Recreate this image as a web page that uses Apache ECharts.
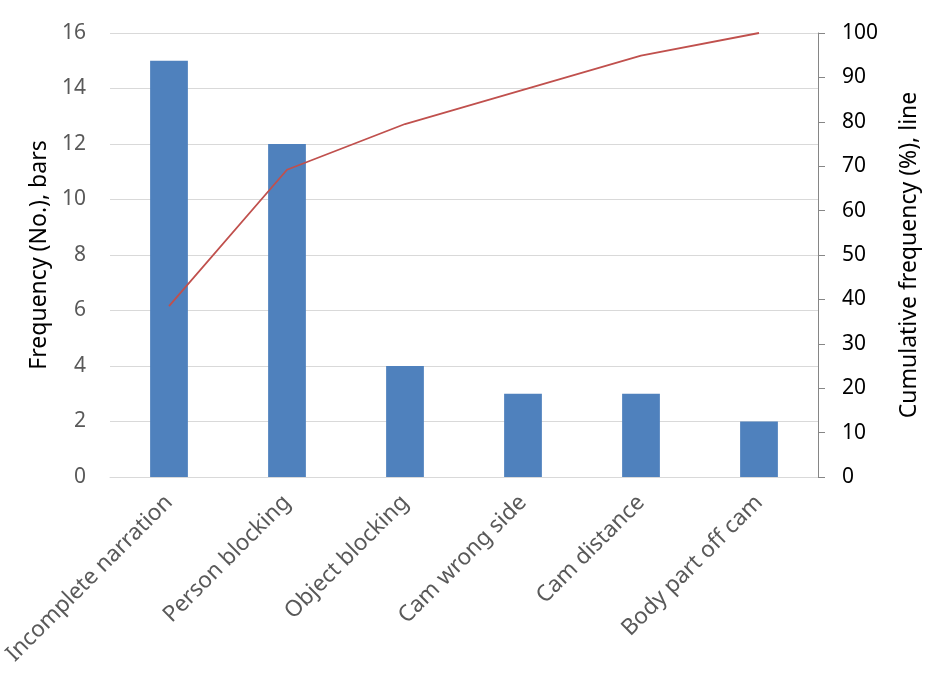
<!DOCTYPE html>
<html>
<head>
<meta charset="utf-8">
<script src="https://cdn.jsdelivr.net/npm/echarts@6/dist/echarts.min.js"></script>
<style>html,body{margin:0;padding:0;background:#fff}#c{width:929px;height:679px}</style>
</head>
<body>
<div id="c"></div>
<script>
const categories = ["Incomplete narration", "Person blocking", "Object blocking", "Cam wrong side", "Cam distance", "Body part off cam"];
const frequency = [15, 12, 4, 3, 3, 2];
const cumulative = [38.5, 69.2, 79.5, 87.2, 94.9, 100];
const leftTicks = { min: 0, max: 16, interval: 2 };
const rightTicks = { min: 0, max: 100, interval: 10 };

const FONT = "'Noto Sans', 'Open Sans', sans-serif";
const chart = echarts.init(document.getElementById('c'));
chart.setOption({
  animation: false,
  grid: { left: 110, right: 111, top: 33, bottom: 202, containLabel: false, outerBoundsMode: 'none' },
  xAxis: {
    type: 'category',
    data: categories,
    axisLine: { show: true, lineStyle: { color: '#d9d9d9', width: 1 } },
    axisTick: { show: false },
    axisLabel: { rotate: 45, color: '#595959', fontSize: 22.5, fontFamily: FONT, margin: 22, interval: 0 }
  },
  yAxis: [
    {
      type: 'value', min: leftTicks.min, max: leftTicks.max, interval: leftTicks.interval,
      name: 'Frequency (No.), bars', nameLocation: 'middle', nameGap: 57,
      nameTextStyle: { color: '#000', fontSize: 23, fontFamily: FONT },
      axisLine: { show: false }, axisTick: { show: false },
      axisLabel: { color: '#595959', fontSize: 21, fontFamily: FONT, margin: 24 },
      splitLine: { show: true, lineStyle: { color: '#d9d9d9', width: 1 } }
    },
    {
      type: 'value', min: rightTicks.min, max: rightTicks.max, interval: rightTicks.interval,
      position: 'right',
      name: 'Cumulative frequency (%), line', nameLocation: 'middle', nameGap: 80, nameRotate: 90,
      nameTextStyle: { color: '#000', fontSize: 23, fontFamily: FONT },
      axisLine: { show: true, lineStyle: { color: '#868686', width: 1 } },
      axisTick: { show: true, length: 7, inside: false, lineStyle: { color: '#868686' } },
      axisLabel: { color: '#000', fontSize: 21, fontFamily: FONT, margin: 24 },
      splitLine: { show: false }
    }
  ],
  series: [
    {
      type: 'bar', data: frequency, yAxisIndex: 0, barWidth: '32%',
      itemStyle: { color: '#4f81bd' }
    },
    {
      type: 'line', data: cumulative, yAxisIndex: 1, showSymbol: false, symbol: 'none',
      lineStyle: { color: '#c0504d', width: 1.8 }
    }
  ]
});
</script>
</body>
</html>
